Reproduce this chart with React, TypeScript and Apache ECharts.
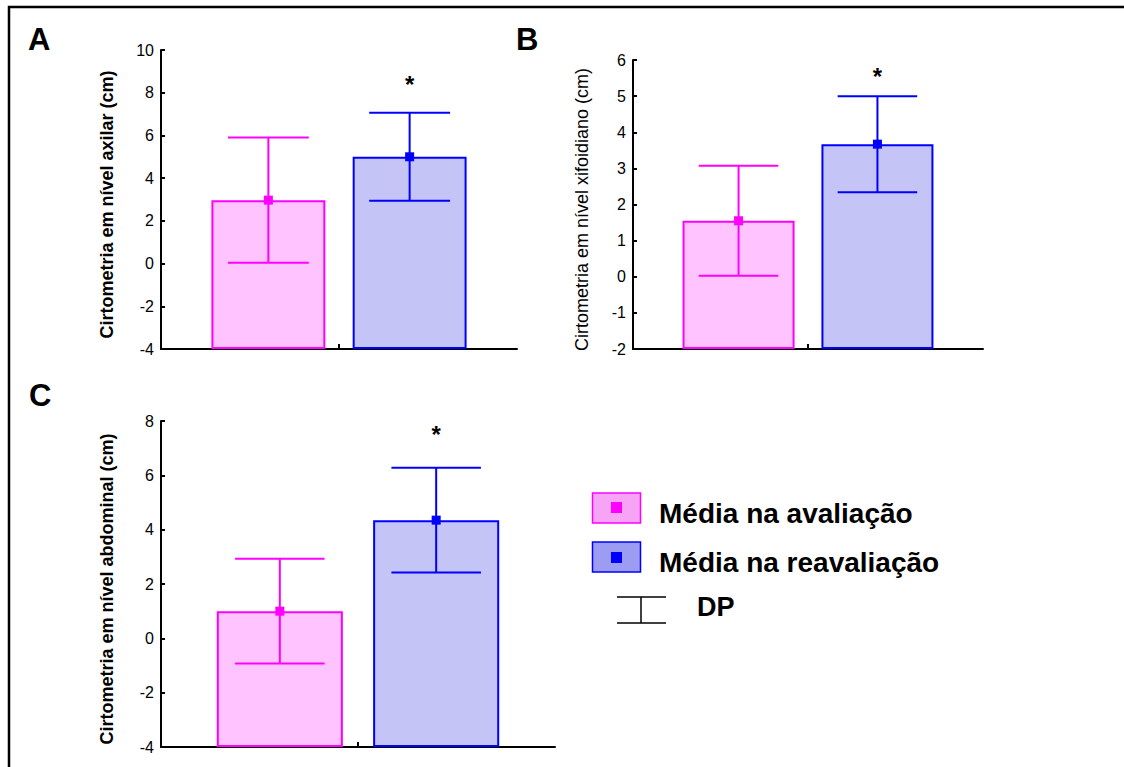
import React, { useEffect, useRef } from "react";
import * as echarts from "echarts";

// ---------- data ----------
const seriesNames = ["Média na avaliação", "Média na reavaliação"];
const dpLabel = "DP";
const panelLetters = ["A", "B", "C"];
const axisNames = [
  "Cirtometria em nível axilar (cm)",
  "Cirtometria em nível xifoidiano (cm)",
  "Cirtometria em nível abdominal (cm)",
];
const categories = [""];
const meansA = [2.97, 5.0];
const sdA = [2.93, 2.06];
const meansB = [1.55, 3.67];
const sdB = [1.52, 1.33];
const meansC = [1.0, 4.35];
const sdC = [1.93, 1.93];
const starLevels = [8.62, 5.7, 7.69];
const starText = "*";
const yMins = [-4, -2, -4];
const yMaxs = [10, 6, 8];
const yIntervals = [2, 1, 2];

// ---------- style ----------
const FONT = "'Liberation Sans', Arial, Helvetica, sans-serif";
const PINK = "#ff00ff";
const BLUE = "#0000ff";
const PINK_FILL = "#ffc4ff";
const BLUE_FILL = "#c4c4f6";
const BAR_W = 0.32;
const GAP = 0.24;
const CAP = 0.71;
const OFFSET = (BAR_W + BAR_W * GAP) / 2;

const grids = [
  { left: 161, top: 50, width: 356, height: 299 },
  { left: 633, top: 60, width: 350, height: 289 },
  { left: 161, top: 421, width: 394, height: 326 },
];
const nameGaps = [45, 42, 45];
const nameBold = [true, false, true];

const panels = [
  { means: meansA, sds: sdA },
  { means: meansB, sds: sdB },
  { means: meansC, sds: sdC },
];

function errRender(color: string, side: number) {
  return (params: any, api: any) => {
    const cat = api.value(0);
    const mean = api.value(1);
    const sd = api.value(2);
    const band = api.size([1, 0])[0];
    const c = api.coord([cat, mean]);
    const cx = c[0] + side * band * OFFSET;
    const yHi = api.coord([cat, mean + sd])[1];
    const yLo = api.coord([cat, mean - sd])[1];
    const half = (band * BAR_W * CAP) / 2;
    const m = 4.5;
    const ls = { stroke: color, lineWidth: 2 };
    return {
      type: "group",
      children: [
        { type: "line", shape: { x1: cx, y1: yHi, x2: cx, y2: yLo }, style: ls },
        { type: "line", shape: { x1: cx - half, y1: yHi, x2: cx + half, y2: yHi }, style: ls },
        { type: "line", shape: { x1: cx - half, y1: yLo, x2: cx + half, y2: yLo }, style: ls },
        { type: "rect", shape: { x: cx - m, y: c[1] - m, width: 2 * m, height: 2 * m }, style: { fill: color } },
      ],
    };
  };
}

function starRender(params: any, api: any) {
  const cat = api.value(0);
  const band = api.size([1, 0])[0];
  const c = api.coord([cat, api.value(1)]);
  const fs = 24;
  return {
    type: "text",
    x: c[0] + band * OFFSET,
    y: c[1] + fs * 0.22,
    style: {
      text: starText,
      fontSize: fs,
      fontWeight: "bold",
      fontFamily: FONT,
      fill: "#000",
      align: "center",
      verticalAlign: "middle",
    },
  };
}

function buildOption() {
  const xAxis: any[] = [];
  const yAxis: any[] = [];
  const series: any[] = [];
  panels.forEach((p, i) => {
    xAxis.push({
      gridIndex: i,
      type: "category",
      data: categories,
      axisLine: { show: true, onZero: false, lineStyle: { color: "#000", width: 2 } },
      axisTick: { show: true, inside: true, alignWithLabel: true, length: 5, lineStyle: { color: "#000", width: 2 } },
      axisLabel: { show: false },
      splitLine: { show: false },
    });
    yAxis.push({
      gridIndex: i,
      type: "value",
      min: yMins[i],
      max: yMaxs[i],
      interval: yIntervals[i],
      startValue: yMins[i],
      name: axisNames[i],
      nameLocation: "middle",
      nameRotate: 90,
      nameGap: nameGaps[i],
      nameTextStyle: {
        fontFamily: FONT,
        fontSize: 18,
        fontWeight: nameBold[i] ? "bold" : "normal",
        color: "#000",
        padding: [0, 10, 0, 0],
      },
      axisLine: { show: true, lineStyle: { color: "#000", width: 2 } },
      axisTick: { show: true, inside: true, length: 4, lineStyle: { color: "#000", width: 2 } },
      axisLabel: { color: "#000", fontSize: 16, fontFamily: FONT, margin: 7 },
      splitLine: { show: false },
    });
    series.push({
      type: "bar",
      name: seriesNames[0],
      xAxisIndex: i,
      yAxisIndex: i,
      data: [p.means[0]],
      barWidth: "32%",
      barGap: "24%",
      itemStyle: { color: PINK_FILL, borderColor: PINK, borderWidth: 2 },
      silent: true,
    });
    series.push({
      type: "bar",
      name: seriesNames[1],
      xAxisIndex: i,
      yAxisIndex: i,
      data: [p.means[1]],
      barWidth: "32%",
      barGap: "24%",
      itemStyle: { color: BLUE_FILL, borderColor: BLUE, borderWidth: 2 },
      silent: true,
    });
    series.push({
      type: "custom",
      xAxisIndex: i,
      yAxisIndex: i,
      renderItem: errRender(PINK, -1),
      data: [[0, p.means[0], p.sds[0]]],
      z: 5,
      silent: true,
    });
    series.push({
      type: "custom",
      xAxisIndex: i,
      yAxisIndex: i,
      renderItem: errRender(BLUE, 1),
      data: [[0, p.means[1], p.sds[1]]],
      z: 5,
      silent: true,
    });
    series.push({
      type: "custom",
      xAxisIndex: i,
      yAxisIndex: i,
      renderItem: starRender,
      data: [[0, starLevels[i]]],
      z: 5,
      silent: true,
    });
  });

  const letterStyle = (t: string) => ({
    text: t,
    fontSize: 31,
    fontWeight: "bold",
    fontFamily: FONT,
    fill: "#000",
    align: "left",
    verticalAlign: "middle",
  });
  const legendText = (t: string, fs: number) => ({
    text: t,
    fontSize: fs,
    fontWeight: "bold",
    fontFamily: FONT,
    fill: "#000",
    align: "left",
    verticalAlign: "middle",
  });

  const graphic: any[] = [
    { type: "rect", shape: { x: 9, y: 7, width: 1400, height: 1000 }, style: { fill: "none", stroke: "#000", lineWidth: 2.5 }, silent: true },
    { type: "text", x: 28, y: 39, style: letterStyle(panelLetters[0]) },
    { type: "text", x: 516, y: 39, style: letterStyle(panelLetters[1]) },
    { type: "text", x: 29, y: 395, style: letterStyle(panelLetters[2]) },
    // legend
    { type: "rect", shape: { x: 592.5, y: 493, width: 48, height: 30 }, style: { fill: "#f7a4f7", stroke: PINK, lineWidth: 1.5 } },
    { type: "rect", shape: { x: 611, y: 502, width: 11, height: 11 }, style: { fill: PINK } },
    { type: "text", x: 659, y: 513, style: legendText(seriesNames[0], 28) },
    { type: "rect", shape: { x: 592.5, y: 542, width: 48, height: 30 }, style: { fill: "#9c9cf2", stroke: BLUE, lineWidth: 1.5 } },
    { type: "rect", shape: { x: 611, y: 552, width: 11, height: 11 }, style: { fill: BLUE } },
    { type: "text", x: 659, y: 562, style: legendText(seriesNames[1], 28) },
    { type: "line", shape: { x1: 617, y1: 597, x2: 666, y2: 597 }, style: { stroke: "#000", lineWidth: 1.5 } },
    { type: "line", shape: { x1: 617, y1: 623, x2: 666, y2: 623 }, style: { stroke: "#000", lineWidth: 1.5 } },
    { type: "line", shape: { x1: 641, y1: 597, x2: 641, y2: 623 }, style: { stroke: "#000", lineWidth: 1.5 } },
    { type: "text", x: 697, y: 607, style: legendText(dpLabel, 27) },
  ];

  return {
    animation: false,
    backgroundColor: "#fff",
    grid: grids.map((g) => ({ ...g, containLabel: false })),
    xAxis,
    yAxis,
    series,
    graphic,
  };
}

export default function App() {
  const ref = useRef<HTMLDivElement>(null);
  useEffect(() => {
    document.body.style.margin = "0";
    const chart = echarts.init(ref.current!, null, { renderer: "svg" });
    chart.setOption(buildOption() as any);
    return () => chart.dispose();
  }, []);
  return <div ref={ref} style={{ width: 1124, height: 767 }} />;
}
